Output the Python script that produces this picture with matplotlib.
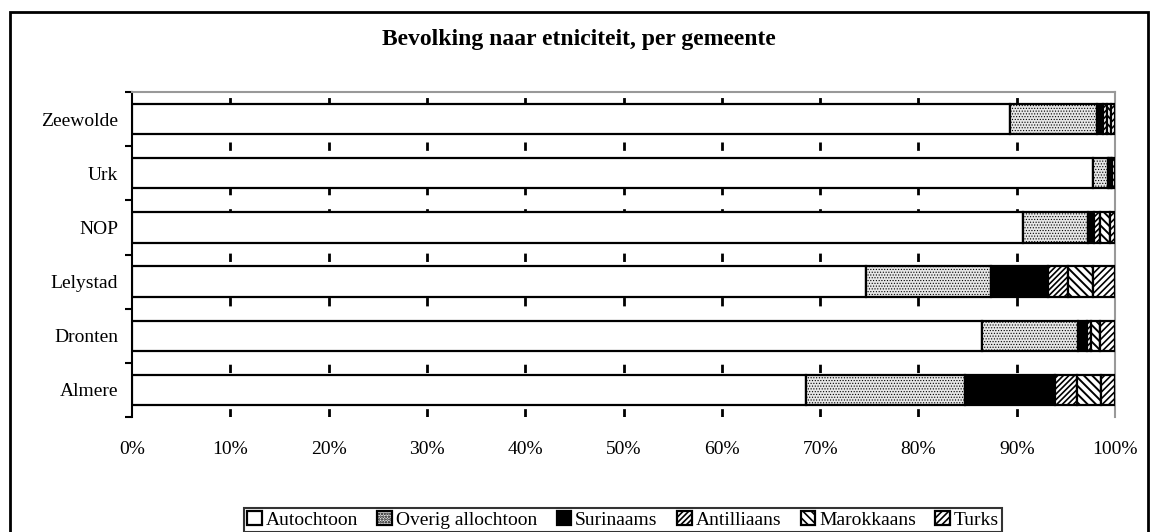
import matplotlib
matplotlib.use("Agg")
import matplotlib.pyplot as plt
from matplotlib.patches import Rectangle
import numpy as np

plt.rcParams['font.family'] = ['Liberation Serif', 'DejaVu Serif']

gemeenten = ["Almere", "Dronten", "Lelystad", "NOP", "Urk", "Zeewolde"]
autochtoon = [68.6, 86.5, 74.7, 90.6, 97.8, 89.3]
overig_allochtoon = [16.1, 9.7, 12.7, 6.7, 1.5, 8.9]
surinaams = [9.2, 1.0, 5.8, 0.6, 0.1, 0.6]
antilliaans = [2.2, 0.4, 2.0, 0.6, 0.2, 0.4]
marokkaans = [2.5, 0.9, 2.6, 1.0, 0.1, 0.4]
turks = [1.4, 1.5, 2.2, 0.5, 0.3, 0.4]

series = [
    ("Autochtoon", autochtoon, dict(facecolor="white", hatch=None, hlw=1.0)),
    ("Overig allochtoon", overig_allochtoon, dict(facecolor="#e6e6e6", hatch="......", hlw=0.5)),
    ("Surinaams", surinaams, dict(facecolor="black", hatch=None, hlw=1.0)),
    ("Antilliaans", antilliaans, dict(facecolor="white", hatch="//////", hlw=1.2)),
    ("Marokkaans", marokkaans, dict(facecolor="white", hatch="\\\\\\\\", hlw=1.4)),
    ("Turks", turks, dict(facecolor="white", hatch="/////", hlw=1.2)),
]

fig = plt.figure(figsize=(11.58, 5.32), dpi=100)
W, H = 1158, 532
ax = fig.add_axes([132 / W, 1 - 417 / H, (1115 - 132) / W, (417 - 92) / H])

y = np.arange(len(gemeenten))
left = np.zeros(len(gemeenten))
handles = []
for name, vals, st in series:
    plt.rcParams['hatch.linewidth'] = st["hlw"]
    vals = np.array(vals)
    b = ax.barh(y, vals, left=left, height=0.56, facecolor=st["facecolor"],
                edgecolor="black", linewidth=1.6, hatch=st["hatch"], label=name, zorder=3)
    handles.append(b)
    left = left + vals

ax.set_xlim(0, 100)
ax.set_ylim(-0.5, len(gemeenten) - 0.5)
ax.set_xticks(np.arange(0, 101, 10))
ax.set_xticklabels([f"{v}%" for v in range(0, 101, 10)], fontsize=14)
ax.set_yticks(y)
ax.set_yticklabels(gemeenten, fontsize=14)
ax.set_yticks(np.arange(-0.5, len(gemeenten), 1), minor=True)
ax.tick_params(axis='y', which='major', length=0, pad=10)
ax.tick_params(axis='y', which='minor', length=5, width=1.5, direction='out')
ax.tick_params(axis='x', which='major', length=0, pad=17)

for xv in range(10, 100, 10):
    ax.axvline(xv, color="black", linewidth=2, linestyle=(0, (3, 5)), zorder=1)

for s in ["top", "right"]:
    ax.spines[s].set_color("#999999")
    ax.spines[s].set_linewidth(1.5)
ax.spines["left"].set_linewidth(1.5)
ax.spines["bottom"].set_visible(False)

fig.text(0.5, 1 - 40 / H, "Bevolking naar etniciteit, per gemeente",
         ha="center", va="center", fontsize=17, fontweight="bold")

leg = fig.legend(handles=handles, labels=[s[0] for s in series], loc="center",
                 bbox_to_anchor=(623 / W, 1 - 520 / H), ncol=6, fontsize=14,
                 frameon=True, fancybox=False, edgecolor="black", handlelength=0.75,
                 handleheight=0.75, handletextpad=0.2, columnspacing=1.0,
                 borderpad=0.15, borderaxespad=0)
leg.get_frame().set_linewidth(1.5)

fig.patches.append(Rectangle((10 / W, -0.05), (1148 - 10) / W, 1.05 - 12 / H,
                             transform=fig.transFigure, fill=False,
                             edgecolor="black", linewidth=2))

fig.savefig("out.png", dpi=100)
